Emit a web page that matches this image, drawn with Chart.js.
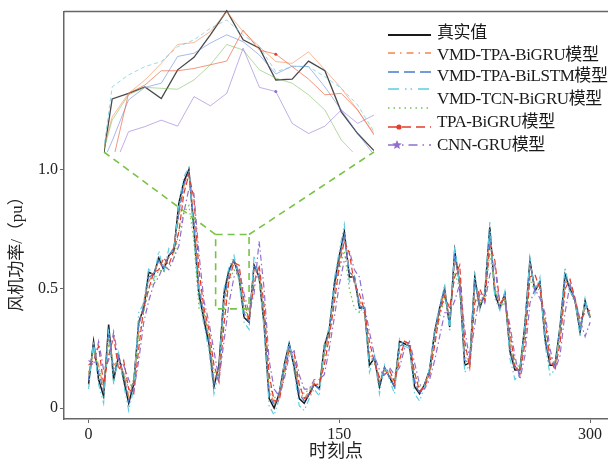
<!DOCTYPE html>
<html>
<head>
<meta charset="utf-8">
<script src="https://cdn.jsdelivr.net/npm/chart.js@4.4.1/dist/chart.umd.min.js"></script>
<style>
  html, body { margin: 0; padding: 0; background: #fff; }
  #wrap { position: relative; width: 608px; height: 461px; overflow: hidden; }
  #main { position: absolute; left: 0; top: 0; }
  #inset { position: absolute; left: 104px; top: 8px; }
</style>
</head>
<body>
<div id="wrap">
  <canvas id="main" width="608" height="461"></canvas>
  <canvas id="inset" width="270" height="144"></canvas>
</div>
<script>
  // time index (every 3rd sample, 0..300)
  var timeSteps = [];
  for (var t = 0; t <= 300; t += 3) timeSteps.push(t);

  var xTickValues = [0, 150, 300];
  var yTickValues = [0, 0.5, 1.0];
  var yTickLabels = ['0', '0.5', '1.0'];

  var seriesNames = ['真实值', 'VMD-TPA-BiGRU模型', 'VMD-TPA-BiLSTM模型', 'VMD-TCN-BiGRU模型', 'VMD-TCN-BiGRU', 'TPA-BiGRU模型', 'CNN-GRU模型'];
  var legendLabels = ['真实值', 'VMD-TPA-BiGRU模型', 'VMD-TPA-BiLSTM模型', 'VMD-TCN-BiGRU模型', 'TPA-BiGRU模型', 'CNN-GRU模型'];

  var actual = [
    0.10, 0.28, 0.12, 0.05, 0.35, 0.12, 0.22, 0.12, 0.02, 0.10,
    0.36, 0.42, 0.57, 0.56, 0.63, 0.58, 0.64, 0.66, 0.86, 0.95,
    1.00, 0.75, 0.48, 0.37, 0.27, 0.09, 0.18, 0.48, 0.58, 0.62,
    0.55, 0.38, 0.36, 0.60, 0.55, 0.35, 0.04, 0.00, 0.06, 0.18,
    0.27, 0.17, 0.04, 0.02, 0.06, 0.10, 0.08, 0.26, 0.33, 0.52,
    0.64, 0.74, 0.55, 0.55, 0.42, 0.42, 0.18, 0.21, 0.09, 0.17,
    0.13, 0.09, 0.28, 0.27, 0.26, 0.09, 0.06, 0.10, 0.16, 0.32,
    0.42, 0.50, 0.34, 0.66, 0.52, 0.18, 0.19, 0.55, 0.42, 0.48,
    0.76, 0.48, 0.42, 0.48, 0.24, 0.16, 0.16, 0.35, 0.62, 0.49,
    0.53, 0.29, 0.18, 0.18, 0.34, 0.56, 0.50, 0.45, 0.32, 0.45,
    0.38
  ];
  var vmdTpaBiGru = [
    0.14, 0.25, 0.18, 0.08, 0.30, 0.18, 0.20, 0.15, 0.05, 0.12,
    0.33, 0.45, 0.53, 0.57, 0.61, 0.60, 0.63, 0.68, 0.80, 0.93,
    0.98, 0.80, 0.52, 0.40, 0.30, 0.12, 0.16, 0.43, 0.56, 0.63,
    0.57, 0.41, 0.37, 0.58, 0.58, 0.38, 0.08, 0.02, 0.05, 0.16,
    0.26, 0.20, 0.07, 0.04, 0.07, 0.11, 0.09, 0.23, 0.32, 0.49,
    0.62, 0.72, 0.58, 0.54, 0.45, 0.41, 0.22, 0.20, 0.11, 0.16,
    0.14, 0.10, 0.25, 0.28, 0.27, 0.12, 0.07, 0.10, 0.15, 0.30,
    0.41, 0.49, 0.37, 0.62, 0.54, 0.22, 0.18, 0.51, 0.45, 0.47,
    0.73, 0.51, 0.43, 0.47, 0.27, 0.17, 0.15, 0.32, 0.60, 0.51,
    0.52, 0.32, 0.19, 0.17, 0.31, 0.53, 0.52, 0.46, 0.34, 0.43,
    0.39
  ];
  var vmdTpaBiLstm = [
    0.12, 0.27, 0.15, 0.07, 0.32, 0.15, 0.21, 0.14, 0.03, 0.11,
    0.35, 0.43, 0.55, 0.56, 0.62, 0.59, 0.64, 0.67, 0.82, 0.94,
    0.99, 0.78, 0.50, 0.39, 0.28, 0.10, 0.16, 0.45, 0.57, 0.62,
    0.56, 0.40, 0.36, 0.60, 0.56, 0.37, 0.06, 0.01, 0.06, 0.17,
    0.27, 0.18, 0.06, 0.03, 0.06, 0.10, 0.08, 0.24, 0.33, 0.50,
    0.63, 0.73, 0.57, 0.55, 0.43, 0.42, 0.20, 0.21, 0.10, 0.17,
    0.13, 0.09, 0.26, 0.27, 0.26, 0.11, 0.06, 0.10, 0.16, 0.31,
    0.42, 0.50, 0.35, 0.64, 0.53, 0.20, 0.19, 0.53, 0.43, 0.48,
    0.74, 0.50, 0.42, 0.48, 0.25, 0.16, 0.16, 0.34, 0.61, 0.50,
    0.53, 0.30, 0.18, 0.18, 0.33, 0.55, 0.51, 0.45, 0.33, 0.44,
    0.38
  ];
  var vmdTcnBiGru = [
    0.08, 0.28, 0.10, 0.02, 0.33, 0.10, 0.23, 0.10, -0.01, 0.08,
    0.40, 0.44, 0.59, 0.54, 0.66, 0.57, 0.67, 0.65, 0.86, 0.97,
    1.01, 0.72, 0.46, 0.35, 0.24, 0.06, 0.15, 0.50, 0.59, 0.64,
    0.53, 0.36, 0.33, 0.64, 0.54, 0.33, 0.01, -0.03, 0.04, 0.19,
    0.28, 0.15, 0.01, -0.01, 0.04, 0.08, 0.05, 0.27, 0.34, 0.54,
    0.66, 0.77, 0.53, 0.56, 0.40, 0.43, 0.15, 0.22, 0.06, 0.18,
    0.12, 0.06, 0.29, 0.26, 0.25, 0.06, 0.03, 0.09, 0.17, 0.33,
    0.43, 0.52, 0.32, 0.68, 0.51, 0.15, 0.18, 0.57, 0.41, 0.49,
    0.78, 0.46, 0.41, 0.49, 0.21, 0.12, 0.14, 0.36, 0.63, 0.48,
    0.55, 0.27, 0.14, 0.16, 0.35, 0.59, 0.49, 0.45, 0.30, 0.46,
    0.37
  ];
  var tcnDotted = [
    0.15, 0.24, 0.17, 0.10, 0.27, 0.18, 0.19, 0.15, 0.08, 0.12,
    0.30, 0.40, 0.50, 0.53, 0.58, 0.57, 0.60, 0.62, 0.74, 0.82,
    0.85, 0.70, 0.42, 0.40, 0.30, 0.15, 0.14, 0.40, 0.53, 0.58,
    0.55, 0.42, 0.38, 0.55, 0.55, 0.40, 0.10, 0.04, 0.07, 0.15,
    0.24, 0.20, 0.09, 0.06, 0.08, 0.10, 0.10, 0.22, 0.30, 0.46,
    0.58, 0.66, 0.50, 0.42, 0.40, 0.40, 0.24, 0.19, 0.13, 0.16,
    0.15, 0.12, 0.23, 0.27, 0.26, 0.14, 0.09, 0.10, 0.15, 0.28,
    0.38, 0.46, 0.38, 0.57, 0.50, 0.25, 0.20, 0.46, 0.44, 0.45,
    0.65, 0.50, 0.42, 0.45, 0.29, 0.19, 0.17, 0.30, 0.54, 0.49,
    0.50, 0.34, 0.22, 0.19, 0.30, 0.50, 0.49, 0.44, 0.35, 0.42,
    0.38
  ];
  var tpaBiGru = [
    0.18, 0.20, 0.26, 0.10, 0.22, 0.30, 0.16, 0.20, 0.08, 0.06,
    0.25, 0.42, 0.50, 0.57, 0.58, 0.63, 0.60, 0.66, 0.74, 0.90,
    0.98, 0.88, 0.58, 0.42, 0.33, 0.18, 0.11, 0.35, 0.54, 0.61,
    0.60, 0.45, 0.37, 0.52, 0.60, 0.43, 0.14, 0.03, 0.03, 0.14,
    0.24, 0.23, 0.10, 0.04, 0.05, 0.10, 0.10, 0.18, 0.30, 0.44,
    0.60, 0.70, 0.65, 0.52, 0.48, 0.41, 0.28, 0.19, 0.13, 0.14,
    0.16, 0.11, 0.20, 0.28, 0.27, 0.15, 0.07, 0.09, 0.14, 0.26,
    0.40, 0.47, 0.42, 0.55, 0.60, 0.28, 0.17, 0.44, 0.50, 0.45,
    0.68, 0.62, 0.44, 0.46, 0.32, 0.18, 0.14, 0.27, 0.55, 0.56,
    0.50, 0.37, 0.21, 0.16, 0.27, 0.50, 0.54, 0.46, 0.37, 0.40,
    0.41
  ];
  var cnnGru = [
    0.20, 0.18, 0.28, 0.16, 0.20, 0.32, 0.20, 0.18, 0.12, 0.07,
    0.20, 0.36, 0.45, 0.52, 0.55, 0.60, 0.58, 0.63, 0.68, 0.82,
    0.92, 0.90, 0.65, 0.45, 0.36, 0.24, 0.12, 0.28, 0.44, 0.55,
    0.58, 0.48, 0.40, 0.48, 0.70, 0.50, 0.20, 0.08, 0.05, 0.12,
    0.22, 0.24, 0.14, 0.08, 0.08, 0.12, 0.12, 0.14, 0.25, 0.38,
    0.52, 0.62, 0.66, 0.58, 0.55, 0.43, 0.32, 0.22, 0.16, 0.14,
    0.17, 0.14, 0.17, 0.25, 0.28, 0.19, 0.10, 0.08, 0.12, 0.20,
    0.30, 0.40, 0.40, 0.45, 0.52, 0.33, 0.20, 0.35, 0.48, 0.44,
    0.56, 0.60, 0.42, 0.44, 0.35, 0.22, 0.12, 0.22, 0.44, 0.50,
    0.46, 0.40, 0.25, 0.16, 0.22, 0.40, 0.52, 0.45, 0.37, 0.30,
    0.36
  ];

  // zoomed-in window (inset), 18 samples
  var insetIndex = [0, 1, 2, 3, 4, 5, 6, 7, 8, 9, 10, 11, 12, 13, 14, 15, 16, 17];
  var insetActual      = [0.30, 0.531, 0.543, 0.557, 0.532, 0.594, 0.621, 0.670, 0.722, 0.659, 0.641, 0.572, 0.574, 0.613, 0.592, 0.503, 0.456, 0.419];
  var insetVmdTpaBiGru = [0.36, 0.492, 0.543, 0.572, 0.608, 0.649, 0.653, 0.677, 0.720, 0.677, 0.644, 0.612, 0.608, 0.633, 0.594, 0.554, 0.507, 0.456];
  var insetVmdTpaBiLstm= [0.36, 0.440, 0.529, 0.556, 0.565, 0.623, 0.630, 0.652, 0.670, 0.655, 0.626, 0.585, 0.602, 0.601, 0.557, 0.507, 0.456, 0.410];
  var insetVmdTcnBiGru = [0.30, 0.557, 0.583, 0.601, 0.612, 0.644, 0.659, 0.684, 0.702, 0.670, 0.644, 0.590, 0.601, 0.601, 0.579, 0.554, 0.518, 0.460];
  var insetTcnDotted   = [0.36, 0.485, 0.540, 0.556, 0.554, 0.552, 0.572, 0.605, 0.649, 0.637, 0.594, 0.576, 0.565, 0.540, 0.507, 0.442, 0.405, 0.370];
  var insetTpaBiGru    = [0.33, 0.390, 0.543, 0.561, 0.592, 0.592, 0.597, 0.605, 0.613, 0.680, 0.637, 0.628, 0.601, 0.574, 0.540, 0.543, 0.507, 0.453];
  var insetCnnGru      = [0.33, 0.374, 0.460, 0.471, 0.485, 0.472, 0.536, 0.516, 0.543, 0.641, 0.556, 0.547, 0.478, 0.456, 0.472, 0.507, 0.478, 0.496];

  var zoomRegion = { xFrom: 76, xTo: 96, yFrom: 0.416, yTo: 0.728 };
  var insetOffset = { left: 104, top: 8 };

  var serif = '"Liberation Serif", "Noto Sans CJK SC", serif';
  var colors = {
    actual: '#1a1a1a',
    orange: '#f4874b',
    blue: '#4a7bd0',
    cyan: '#5fcde0',
    green: '#74c050',
    red: '#e23c2c',
    purple: '#8e6fd0',
    zoom: '#78c346',
    axis: '#666666',
    text: '#222222'
  };

  function markerAt(idx, len, r) {
    var arr = [];
    for (var i = 0; i < len; i++) arr.push(i === idx ? r : 0);
    return arr;
  }

  // ---- inset chart ----
  var insetChart = new Chart(document.getElementById('inset'), {
    type: 'line',
    data: {
      labels: insetIndex,
      datasets: [
        { data: insetActual, borderColor: 'rgba(40,40,40,0.85)', borderWidth: 1.3, order: 7 },
        { data: insetVmdTpaBiGru, borderColor: 'rgba(245,140,80,0.6)', borderWidth: 1, order: 6 },
        { data: insetVmdTpaBiLstm, borderColor: 'rgba(80,120,210,0.5)', borderWidth: 1, order: 5 },
        { data: insetVmdTcnBiGru, borderColor: 'rgba(110,200,225,0.7)', borderWidth: 1, borderDash: [4, 3], order: 4 },
        { data: insetTcnDotted, borderColor: 'rgba(120,185,90,0.55)', borderWidth: 1, order: 3 },
        { data: insetTpaBiGru, borderColor: 'rgba(235,95,60,0.65)', borderWidth: 1, order: 2,
          pointRadius: markerAt(11, 18, 1.5), pointBackgroundColor: colors.red, pointBorderWidth: 0 },
        { data: insetCnnGru, borderColor: 'rgba(140,110,210,0.55)', borderWidth: 1, order: 1,
          pointRadius: markerAt(11, 18, 1.5), pointBackgroundColor: colors.purple, pointBorderWidth: 0 }
      ]
    },
    options: {
      responsive: false,
      animation: false,
      devicePixelRatio: 1,
      layout: { padding: 0 },
      elements: { point: { radius: 0 }, line: { tension: 0 } },
      plugins: { legend: { display: false }, tooltip: { enabled: false } },
      scales: {
        x: { type: 'linear', min: 0.5, max: 17, display: false },
        y: { min: zoomRegion.yFrom, max: zoomRegion.yTo, display: false }
      }
    }
  });

  // ---- main chart plugins ----
  var framePlugin = {
    id: 'frame',
    afterDraw: function(chart) {
      var a = chart.chartArea, ctx = chart.ctx;
      ctx.save();
      ctx.strokeStyle = colors.axis;
      ctx.lineWidth = 1.5;
      ctx.beginPath();
      ctx.moveTo(a.left, a.top);
      ctx.lineTo(a.right, a.top);
      ctx.stroke();
      // y axis title
      ctx.fillStyle = colors.text;
      ctx.font = '17px ' + serif;
      ctx.textAlign = 'center';
      ctx.textBaseline = 'middle';
      ctx.translate(18, 250);
      ctx.rotate(-Math.PI / 2);
      ctx.fillText('风机功率/（pu）', 0, 0);
      ctx.restore();
    }
  };

  var zoomBoxPlugin = {
    id: 'zoomBox',
    afterDatasetsDraw: function(chart) {
      var xs = chart.scales.x, ys = chart.scales.y, ctx = chart.ctx;
      var x0 = xs.getPixelForValue(zoomRegion.xFrom), x1 = xs.getPixelForValue(zoomRegion.xTo);
      var y0 = ys.getPixelForValue(zoomRegion.yFrom), y1 = ys.getPixelForValue(zoomRegion.yTo);
      var ia = insetChart.chartArea;
      var bl = { x: insetOffset.left + ia.left, y: insetOffset.top + ia.bottom };
      var br = { x: insetOffset.left + ia.right, y: insetOffset.top + ia.bottom };
      ctx.save();
      ctx.strokeStyle = colors.zoom;
      ctx.lineWidth = 1.6;
      ctx.setLineDash([7, 5]);
      ctx.strokeRect(x0, y1, x1 - x0, y0 - y1);
      ctx.beginPath();
      ctx.moveTo(x0, y1); ctx.lineTo(bl.x, bl.y);
      ctx.moveTo(x1, y1); ctx.lineTo(br.x, br.y);
      ctx.stroke();
      ctx.restore();
    }
  };

  var legendSampleRows = [35, 53, 72, 89, 108, 127, 145];
  var legendTextRows = [34, 56, 77, 100, 123, 146];
  var legendDashes = [[], [7, 5, 1.5, 5], [11, 5], [11, 6, 1.5, 4, 1.5, 6], [1.5, 4], [9, 5], [9, 5, 1.5, 5]];

  function drawStar(ctx, cx, cy, r) {
    ctx.beginPath();
    for (var k = 0; k < 10; k++) {
      var rad = k % 2 === 0 ? r : r * 0.45;
      var ang = -Math.PI / 2 + k * Math.PI / 5;
      var px = cx + rad * Math.cos(ang), py = cy + rad * Math.sin(ang);
      if (k === 0) ctx.moveTo(px, py); else ctx.lineTo(px, py);
    }
    ctx.closePath();
    ctx.fill();
  }

  var legendPlugin = {
    id: 'sideLegend',
    afterDraw: function(chart) {
      var ctx = chart.ctx;
      ctx.save();
      chart.data.datasets.forEach(function(ds, i) {
        var y = legendSampleRows[i];
        ctx.strokeStyle = ds.borderColor;
        ctx.lineWidth = i === 0 ? 2 : 1.6;
        ctx.setLineDash(legendDashes[i]);
        ctx.beginPath();
        ctx.moveTo(388, y);
        ctx.lineTo(431, y);
        ctx.stroke();
      });
      ctx.setLineDash([]);
      ctx.fillStyle = colors.red;
      ctx.beginPath();
      ctx.arc(399, legendSampleRows[5], 2.6, 0, Math.PI * 2);
      ctx.fill();
      ctx.fillStyle = colors.purple;
      drawStar(ctx, 397, legendSampleRows[6], 5);

      ctx.fillStyle = '#1a1a1a';
      ctx.font = '17px ' + serif;
      ctx.letterSpacing = '-0.4px';
      ctx.textAlign = 'left';
      ctx.textBaseline = 'middle';
      legendLabels.forEach(function(label, i) {
        ctx.fillText(label, 437, legendTextRows[i]);
      });
      ctx.restore();
    }
  };

  function lineSet(label, data, color, dash, width, order) {
    return {
      label: label,
      data: data,
      borderColor: color,
      borderDash: dash,
      borderWidth: width,
      order: order,
      pointRadius: 0,
      fill: false
    };
  }

  var mainChart = new Chart(document.getElementById('main'), {
    type: 'line',
    data: {
      labels: timeSteps,
      datasets: [
        lineSet(seriesNames[0], actual, colors.actual, [], 1.5, 7),
        lineSet(seriesNames[1], vmdTpaBiGru, colors.orange, [6, 3, 1.5, 3], 1.2, 6),
        lineSet(seriesNames[2], vmdTpaBiLstm, colors.blue, [6, 3], 1.2, 5),
        lineSet(seriesNames[3], vmdTcnBiGru, colors.cyan, [6, 3, 1.5, 3, 1.5, 3], 1.2, 4),
        lineSet(seriesNames[4], tcnDotted, colors.green, [1.5, 3], 1.2, 3),
        lineSet(seriesNames[5], tpaBiGru, colors.red, [6, 3], 1.2, 2),
        lineSet(seriesNames[6], cnnGru, colors.purple, [6, 3, 1.5, 3], 1.2, 1)
      ]
    },
    options: {
      responsive: false,
      animation: false,
      devicePixelRatio: 1,
      layout: { padding: { top: 8, left: 0, right: 0, bottom: 0 } },
      elements: { line: { tension: 0 } },
      plugins: { legend: { display: false }, tooltip: { enabled: false } },
      scales: {
        x: {
          type: 'linear',
          min: -14.7,
          max: 310.7,
          afterBuildTicks: function(scale) {
            scale.ticks = xTickValues.map(function(v) { return { value: v }; });
          },
          afterFit: function(scale) { scale.height = 42; },
          ticks: { color: colors.text, font: { family: serif, size: 16 }, padding: 2, maxRotation: 0, autoSkip: false },
          grid: { display: true, drawOnChartArea: false, drawTicks: true, tickLength: 4, color: colors.axis },
          border: { display: true, color: colors.axis, width: 1.5 },
          title: { display: true, text: '时刻点', color: colors.text, font: { family: serif, size: 18, lineHeight: 1 }, padding: 0 }
        },
        y: {
          min: -0.0457,
          max: 1.663,
          afterBuildTicks: function(scale) {
            scale.ticks = yTickValues.map(function(v) { return { value: v }; });
          },
          afterFit: function(scale) { scale.width = 64; },
          ticks: {
            color: colors.text,
            font: { family: serif, size: 16 },
            padding: 2,
            autoSkip: false,
            callback: function(value) { return yTickLabels[yTickValues.indexOf(value)]; }
          },
          grid: { display: true, drawOnChartArea: false, drawTicks: true, tickLength: 4, color: colors.axis },
          border: { display: true, color: colors.axis, width: 1.5 }
        }
      }
    },
    plugins: [zoomBoxPlugin, framePlugin, legendPlugin]
  });
</script>
</body>
</html>
